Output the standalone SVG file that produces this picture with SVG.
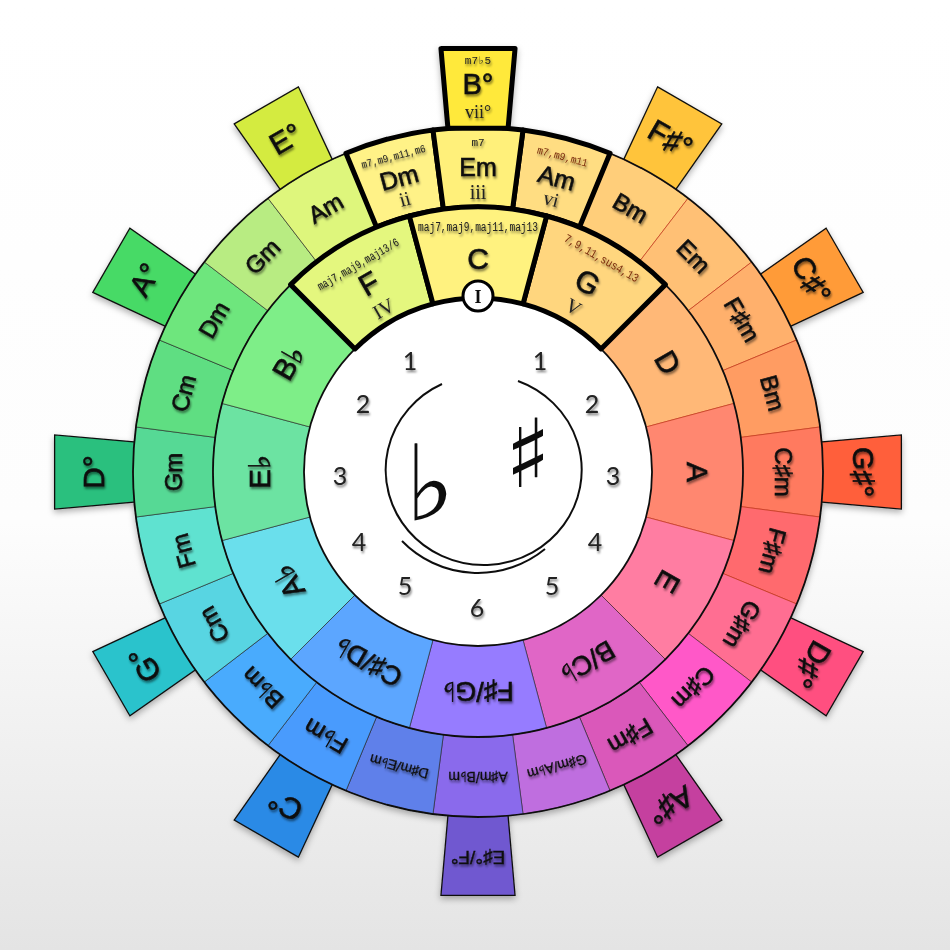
<svg xmlns="http://www.w3.org/2000/svg" xmlns:xlink="http://www.w3.org/1999/xlink" width="950" height="950" viewBox="0 0 950 950">
<style>
.lb{font-family:"Liberation Sans","DejaVu Sans",sans-serif;fill:#111;stroke:#111;stroke-width:0.6;text-anchor:middle;dominant-baseline:central}
.mn{font-size:24px}
.mj{font-size:30px}
.tb{font-size:30px}
.sm{font-size:14px;stroke-width:0.3}
.rn{font-family:"Liberation Serif","DejaVu Serif",serif;fill:#222;text-anchor:middle;dominant-baseline:central;font-size:20px}
.ext{font-family:"Liberation Mono","DejaVu Sans Mono",monospace;fill:#222;text-anchor:middle;dominant-baseline:central;font-size:12px}
.red{fill:#7A2E0E}
.num{font-family:Lato,"Open Sans",sans-serif;font-size:25px;fill:#222;text-anchor:middle;dominant-baseline:central}
.c{stroke:#222;stroke-width:0.8;stroke-opacity:0.7}
.w{stroke:#C2361A;stroke-opacity:0.8}
.t{stroke:#111;stroke-width:1.3}
.hl{stroke:#000;stroke-width:5;stroke-linejoin:round}
.ring{fill:none;stroke:#111;stroke-width:1.8}
</style>
<defs>
<linearGradient id="bg" x1="0" y1="0" x2="0" y2="1">
<stop offset="0" stop-color="#ffffff"/>
<stop offset="0.55" stop-color="#fdfdfd"/>
<stop offset="1" stop-color="#e4e4e4"/>
</linearGradient>
<filter id="ts" x="-20%" y="-20%" width="140%" height="140%">
<feDropShadow dx="1" dy="2.2" stdDeviation="1.3" flood-color="#000" flood-opacity="0.5"/>
</filter>
<filter id="ws" filterUnits="userSpaceOnUse" x="0" y="0" width="950" height="950">
<feDropShadow dx="0" dy="3" stdDeviation="3" flood-color="#000" flood-opacity="0.3"/>
</filter>
<path id="si" d="M 409.41 216.03 A 265 265 0 0 1 546.59 216.03 L 523.03 303.93 A 174 174 0 0 0 432.97 303.93 Z"/>
<path id="so" d="M 432.97 129.95 A 345 345 0 0 1 523.03 129.95 L 512.59 209.27 A 265 265 0 0 0 443.41 209.27 Z"/>
<path id="st" d="M 440.96 48.62 L 515.04 48.62 L 507.63 133.29 L 448.37 133.29 Z"/>
</defs>
<rect width="950" height="950" fill="url(#bg)"/>

<g id="wheel" filter="url(#ws)">
<!-- diminished tabs -->
<g id="tabs">
<g id="t-Fs"><use href="#st" fill="#FFC43A" class="t" transform="rotate(30 478 472)"/><g filter="url(#ts)"><text class="lb tb" x="478" y="87" transform="rotate(30 478 472)">F♯°</text></g></g>
<g id="t-Cs"><use href="#st" fill="#FF9B38" class="t" transform="rotate(60 478 472)"/><g filter="url(#ts)"><text class="lb tb" x="478" y="87" transform="rotate(60 478 472)">C♯°</text></g></g>
<g id="t-Gs"><use href="#st" fill="#FF5E3A" class="t" transform="rotate(90 478 472)"/><g filter="url(#ts)"><text class="lb tb" x="478" y="87" transform="rotate(90 478 472)">G♯°</text></g></g>
<g id="t-Ds"><use href="#st" fill="#FF5080" class="t" transform="rotate(120 478 472)"/><g filter="url(#ts)"><text class="lb tb" x="478" y="87" transform="rotate(120 478 472)">D♯°</text></g></g>
<g id="t-As"><use href="#st" fill="#C5419F" class="t" transform="rotate(150 478 472)"/><g filter="url(#ts)"><text class="lb tb" x="478" y="87" transform="rotate(150 478 472)">A♯°</text></g></g>
<g id="t-Es"><use href="#st" fill="#7059D0" class="t" transform="rotate(180 478 472)"/><g filter="url(#ts)"><text class="lb" style="font-size:19px;stroke-width:0.4" x="478" y="87" transform="rotate(180 478 472)">E♯°/F°</text></g></g>
<g id="t-C"><use href="#st" fill="#2A8AE6" class="t" transform="rotate(210 478 472)"/><g filter="url(#ts)"><text class="lb tb" x="478" y="87" transform="rotate(210 478 472)">C°</text></g></g>
<g id="t-G"><use href="#st" fill="#29C3CC" class="t" transform="rotate(240 478 472)"/><g filter="url(#ts)"><text class="lb tb" x="478" y="87" transform="rotate(240 478 472)">G°</text></g></g>
<g id="t-D"><use href="#st" fill="#2AC07E" class="t" transform="rotate(270 478 472)"/><g filter="url(#ts)"><text class="lb tb" x="478" y="87" transform="rotate(270 478 472)">D°</text></g></g>
<g id="t-A"><use href="#st" fill="#46DA66" class="t" transform="rotate(300 478 472)"/><g filter="url(#ts)"><text class="lb tb" x="478" y="87" transform="rotate(300 478 472)">A°</text></g></g>
<g id="t-E"><use href="#st" fill="#D4EB3F" class="t" transform="rotate(330 478 472)"/><g filter="url(#ts)"><text class="lb tb" x="478" y="87" transform="rotate(330 478 472)">E°</text></g></g>
</g>

<!-- outer minor ring -->
<g id="minor">
<g id="m30"><use href="#so" fill="#FFCE7A" class="c w" transform="rotate(30 478 472)"/><g filter="url(#ts)"><text class="lb mn" x="478" y="167" transform="rotate(30 478 472)">Bm</text></g></g>
<g id="m45"><use href="#so" fill="#FFC074" class="c w" transform="rotate(45 478 472)"/><g filter="url(#ts)"><text class="lb mn" x="478" y="167" transform="rotate(45 478 472)">Em</text></g></g>
<g id="m60"><use href="#so" fill="#FFB06C" class="c w" transform="rotate(60 478 472)"/><g filter="url(#ts)"><text class="lb mn" x="478" y="167" transform="rotate(60 478 472)">F♯m</text></g></g>
<g id="m75"><use href="#so" fill="#FF9C62" class="c w" transform="rotate(75 478 472)"/><g filter="url(#ts)"><text class="lb mn" x="478" y="167" transform="rotate(75 478 472)">Bm</text></g></g>
<g id="m90"><use href="#so" fill="#FF7A5E" class="c w" transform="rotate(90 478 472)"/><g filter="url(#ts)"><text class="lb mn" x="478" y="167" transform="rotate(90 478 472)">C♯m</text></g></g>
<g id="m105"><use href="#so" fill="#FF6A6E" class="c w" transform="rotate(105 478 472)"/><g filter="url(#ts)"><text class="lb mn" x="478" y="167" transform="rotate(105 478 472)">F♯m</text></g></g>
<g id="m120"><use href="#so" fill="#FF6E92" class="c w" transform="rotate(120 478 472)"/><g filter="url(#ts)"><text class="lb mn" x="478" y="167" transform="rotate(120 478 472)">G♯m</text></g></g>
<g id="m135"><use href="#so" fill="#FF58C8" class="c" transform="rotate(135 478 472)"/><g filter="url(#ts)"><text class="lb mn" x="478" y="167" transform="rotate(135 478 472)">C♯m</text></g></g>
<g id="m150"><use href="#so" fill="#DA58BA" class="c" transform="rotate(150 478 472)"/><g filter="url(#ts)"><text class="lb mn" x="478" y="167" transform="rotate(150 478 472)">F♯m</text></g></g>
<g id="m165"><use href="#so" fill="#BF6EDF" class="c" transform="rotate(165 478 472)"/><g filter="url(#ts)"><text class="lb sm" x="478" y="167" transform="rotate(165 478 472)">G♯m/A♭m</text></g></g>
<g id="m180"><use href="#so" fill="#8A6BEC" class="c" transform="rotate(180 478 472)"/><g filter="url(#ts)"><text class="lb sm" x="478" y="167" transform="rotate(180 478 472)">A♯m/B♭m</text></g></g>
<g id="m195"><use href="#so" fill="#5F80EA" class="c" transform="rotate(195 478 472)"/><g filter="url(#ts)"><text class="lb sm" x="478" y="167" transform="rotate(195 478 472)">D♯m/E♭m</text></g></g>
<g id="m210"><use href="#so" fill="#4A9BFD" class="c" transform="rotate(210 478 472)"/><g filter="url(#ts)"><text class="lb mn" x="478" y="167" transform="rotate(210 478 472)">F♭m</text></g></g>
<g id="m225"><use href="#so" fill="#48ABFD" class="c" transform="rotate(225 478 472)"/><g filter="url(#ts)"><text class="lb mn" x="478" y="167" transform="rotate(225 478 472)">B♭m</text></g></g>
<g id="m240"><use href="#so" fill="#58D5E2" class="c" transform="rotate(240 478 472)"/><g filter="url(#ts)"><text class="lb mn" x="478" y="167" transform="rotate(240 478 472)">Cm</text></g></g>
<g id="m255"><use href="#so" fill="#5FE2D0" class="c" transform="rotate(255 478 472)"/><g filter="url(#ts)"><text class="lb mn" x="478" y="167" transform="rotate(255 478 472)">Fm</text></g></g>
<g id="m270"><use href="#so" fill="#57D995" class="c" transform="rotate(270 478 472)"/><g filter="url(#ts)"><text class="lb mn" x="478" y="167" transform="rotate(270 478 472)">Gm</text></g></g>
<g id="m285"><use href="#so" fill="#5FDE82" class="c" transform="rotate(285 478 472)"/><g filter="url(#ts)"><text class="lb mn" x="478" y="167" transform="rotate(285 478 472)">Cm</text></g></g>
<g id="m300"><use href="#so" fill="#6EE67D" class="c" transform="rotate(300 478 472)"/><g filter="url(#ts)"><text class="lb mn" x="478" y="167" transform="rotate(300 478 472)">Dm</text></g></g>
<g id="m315"><use href="#so" fill="#B8EC82" class="c" transform="rotate(315 478 472)"/><g filter="url(#ts)"><text class="lb mn" x="478" y="167" transform="rotate(315 478 472)">Gm</text></g></g>
<g id="m330"><use href="#so" fill="#DEF67C" class="c" transform="rotate(330 478 472)"/><g filter="url(#ts)"><text class="lb mn" x="478" y="167" transform="rotate(330 478 472)">Am</text></g></g>
</g>

<!-- inner major ring -->
<g id="major">
<g id="k60"><use href="#si" fill="#FFB877" class="c w" transform="rotate(60 478 472)"/><g filter="url(#ts)"><text class="lb mj" x="478" y="253" transform="rotate(60 478 472)">D</text></g></g>
<g id="k90"><use href="#si" fill="#FF8770" class="c w" transform="rotate(90 478 472)"/><g filter="url(#ts)"><text class="lb mj" x="478" y="253" transform="rotate(90 478 472)">A</text></g></g>
<g id="k120"><use href="#si" fill="#FF7DA2" class="c w" transform="rotate(120 478 472)"/><g filter="url(#ts)"><text class="lb mj" x="478" y="253" transform="rotate(120 478 472)">E</text></g></g>
<g id="k150"><use href="#si" fill="#E066C6" class="c" transform="rotate(150 478 472)"/><g filter="url(#ts)"><text class="lb" style="font-size:27px" x="478" y="253" transform="rotate(150 478 472)">B/C♭</text></g></g>
<g id="k180"><use href="#si" fill="#967BFF" class="c" transform="rotate(180 478 472)"/><g filter="url(#ts)"><text class="lb" style="font-size:27px" x="478" y="253" transform="rotate(180 478 472)">F♯/G♭</text></g></g>
<g id="k210"><use href="#si" fill="#5BA6FF" class="c" transform="rotate(210 478 472)"/><g filter="url(#ts)"><text class="lb" style="font-size:27px" x="478" y="253" transform="rotate(210 478 472)">C♯/D♭</text></g></g>
<g id="k240"><use href="#si" fill="#6ADFEC" class="c" transform="rotate(240 478 472)"/><g filter="url(#ts)"><text class="lb mj" x="478" y="253" transform="rotate(240 478 472)">A♭</text></g></g>
<g id="k270"><use href="#si" fill="#6CE3A2" class="c" transform="rotate(270 478 472)"/><g filter="url(#ts)"><text class="lb mj" x="478" y="253" transform="rotate(270 478 472)">E♭</text></g></g>
<g id="k300"><use href="#si" fill="#7EEE88" class="c" transform="rotate(300 478 472)"/><g filter="url(#ts)"><text class="lb mj" x="478" y="253" transform="rotate(300 478 472)">B♭</text></g></g>
</g>

<!-- centre -->
<g id="centre">
<circle cx="478" cy="472" r="174" fill="#ffffff"/>
<circle class="ring" cx="478" cy="472" r="345"/>
<circle class="ring" cx="478" cy="472" r="265"/>
<circle class="ring" cx="478" cy="472" r="174"/>
<g filter="url(#ts)">
<text class="num" x="410" y="360">1</text>
<text class="num" x="540" y="360">1</text>
<text class="num" x="363" y="403">2</text>
<text class="num" x="592" y="403">2</text>
<text class="num" x="340" y="475">3</text>
<text class="num" x="613" y="475">3</text>
<text class="num" x="359" y="541">4</text>
<text class="num" x="595" y="541">4</text>
<text class="num" x="405" y="585">5</text>
<text class="num" x="552" y="585">5</text>
<text class="num" x="477" y="607">6</text>
</g>
<path d="M 442 384 A 98 95 0 1 0 518 381" fill="none" stroke="#111" stroke-width="2"/>
<path d="M 402 541 A 104 101 0 0 0 545 549" fill="none" stroke="#111" stroke-width="2"/>
<text x="430" y="520" style="font-family:'DejaVu Sans',sans-serif;font-size:105px;fill:#111;text-anchor:middle">♭</text>
<text x="528" y="487" style="font-family:'DejaVu Serif','Liberation Serif',serif;font-size:95px;fill:#111;text-anchor:middle">♯</text>
</g>

<!-- highlighted key: outer -->
<g id="hl-Dm"><use href="#so" fill="#FFF287" class="hl" transform="rotate(-15 478 472)"/><g filter="url(#ts)"><g transform="rotate(-15 478 472)"><text class="ext" x="478" y="146" textLength="66" lengthAdjust="spacingAndGlyphs" style="font-size:11px">m7,m9,m11,m6</text><text class="lb" style="font-size:25px" x="478" y="167">Dm</text><text class="rn" x="478" y="189">ii</text></g></g></g>
<g id="hl-Am"><use href="#so" fill="#FFDD82" class="hl" transform="rotate(15 478 472)"/><g filter="url(#ts)"><g transform="rotate(15 478 472)"><text class="ext red" x="478" y="146" textLength="52" lengthAdjust="spacingAndGlyphs" style="font-size:11px">m7,m9,m11</text><text class="lb" style="font-size:25px" x="478" y="167">Am</text><text class="rn" x="478" y="189">vi</text></g></g></g>
<g id="hl-Em"><use href="#so" fill="#FFF07A" class="hl"/><g filter="url(#ts)"><text class="ext" x="478" y="143" style="font-size:11px">m7</text><text class="lb" style="font-size:25px" x="478" y="167">Em</text><text class="rn" x="478" y="192">iii</text></g></g>
<g id="hl-B"><path d="M 440.96 48.62 L 515.04 48.62 L 508.07 128.33 L 447.93 128.33 Z" fill="#FFE93A" class="hl"/><g filter="url(#ts)"><text class="ext" x="478" y="61" style="font-size:11px">m7♭5</text><text class="lb" style="font-size:29px" x="478" y="84">B°</text><text class="rn" x="478" y="112" style="font-size:18px">vii°</text></g></g>

<!-- highlighted key: inner -->
<g id="hl-F"><use href="#si" fill="#E4F77E" class="hl" transform="rotate(-30 478 472)"/><g filter="url(#ts)"><g transform="rotate(-30 478 472)"><text class="ext" x="478" y="233" textLength="92" lengthAdjust="spacingAndGlyphs">maj7,maj9,maj13/6</text><text class="lb mj" x="478" y="254">F</text><text class="rn" x="478" y="283">IV</text></g></g></g>
<g id="hl-G"><use href="#si" fill="#FFD67E" class="hl" transform="rotate(30 478 472)"/><g filter="url(#ts)"><g transform="rotate(30 478 472)"><text class="ext red" x="478" y="226" textLength="84" lengthAdjust="spacingAndGlyphs">7,9,11,sus4,13</text><text class="lb mj" x="478" y="253">G</text><text class="rn" x="478" y="281">V</text></g></g></g>
<g id="hl-C"><use href="#si" fill="#FFF27F" class="hl"/><g filter="url(#ts)"><text class="ext" x="478" y="228" textLength="120" lengthAdjust="spacingAndGlyphs">maj7,maj9,maj11,maj13</text><text class="lb mj" x="478" y="258">C</text></g>
<circle cx="478" cy="296" r="15" fill="#fff" stroke="#000" stroke-width="3"/>
<text x="478" y="297" style="font-family:'Liberation Serif',serif;font-weight:bold;font-size:18px;fill:#111;text-anchor:middle;dominant-baseline:central">I</text>
</g>
</g>
</svg>
